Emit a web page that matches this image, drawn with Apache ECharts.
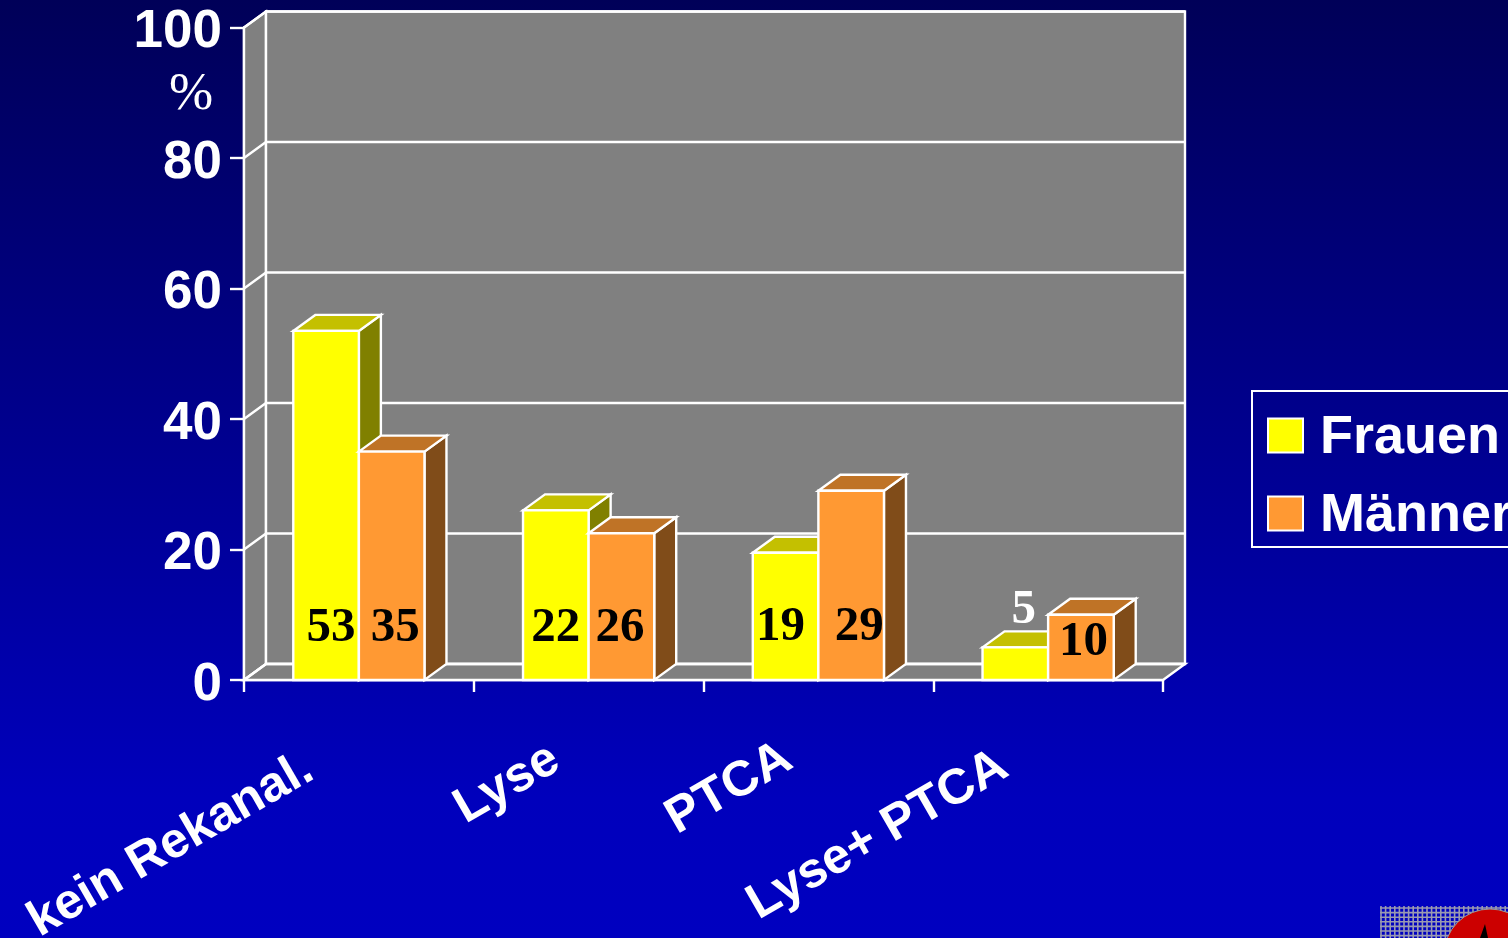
<!DOCTYPE html>
<html><head><meta charset="utf-8">
<style>html,body{margin:0;padding:0;background:#0000c0;overflow:hidden}#c{width:1508px;height:938px}</style>
<script src="https://cdn.jsdelivr.net/npm/echarts@6/dist/echarts.min.js"></script>
</head><body><div id="c"></div>
<script>
const categories = ['kein Rekanal.', 'Lyse', 'PTCA', 'Lyse+ PTCA'];
const frauenValues = [53.5, 26, 19.5, 5];
const maennerValues = [35, 22.5, 29, 10];
const frauenLabels = ['53', '22', '19', '5'];
const maennerLabels = ['35', '26', '29', '10'];
const yTicks = [0, 20, 40, 60, 80, 100];

const DX = 22, DY = -16;
const WHITE = '#ffffff', GRAY = '#808080';
const sans = '"Liberation Sans", Arial, sans-serif';
const serif = '"Liberation Serif", "Times New Roman", serif';
const LW = 2.4;
const line = {stroke: WHITE, lineWidth: LW, lineJoin: 'miter'};

function wallItem(params) {
  const c = params.coordSys, l = c.x, r = c.x + c.width, t = c.y, b = c.y + c.height;
  const poly = (pts) => ({type: 'polygon', shape: {points: pts}, style: Object.assign({fill: GRAY}, line)});
  return {type: 'group', children: [
    poly([[l, b], [l + DX, b + DY], [l + DX, t + DY], [l, t]]),
    poly([[l + DX, b + DY], [r + DX, b + DY], [r + DX, t + DY], [l + DX, t + DY]]),
    poly([[l, b], [r, b], [r + DX, b + DY], [l + DX, b + DY]])
  ]};
}
function gridItem(params, api) {
  const c = params.coordSys, y = api.coord([0, api.value(0)])[1];
  const pts = [[c.x, y], [c.x + DX, y + DY], [c.x + c.width + DX, y + DY]];
  return {type: 'polyline', shape: {points: pts}, style: {fill: 'none', stroke: WHITE, lineWidth: LW}};
}
function barRenderer(colors, side, labels, offsets) {
  return function (params, api) {
    const i = params.dataIndex;
    const base = api.coord([i, 0]), top = api.coord([i, api.value(1)]);
    const w = api.size([1, 0])[0] * 0.2855;
    const x0 = side < 0 ? base[0] - w : base[0], x1 = x0 + w;
    const yT = top[1], yB = base[1];
    const poly = (pts, fill) => ({type: 'polygon', shape: {points: pts}, style: Object.assign({fill}, line)});
    const o = offsets[i];
    return {type: 'group', children: [
      poly([[x1, yT], [x1 + DX, yT + DY], [x1 + DX, yB + DY], [x1, yB]], colors.side),
      poly([[x0, yT], [x0 + DX, yT + DY], [x1 + DX, yT + DY], [x1, yT]], colors.top),
      poly([[x0, yT], [x1, yT], [x1, yB], [x0, yB]], colors.front),
      {type: 'text', style: {
        text: labels[i], x: (x0 + x1) / 2 + o[0], y: yB + o[1],
        fill: o[2] || '#000000', font: 'bold 49px ' + serif, align: 'center', verticalAlign: 'middle'
      }, z2: 10}
    ]};
  };
}
const frauenOffsets = [[5, -52], [0, -52], [-5, -53], [8.5, -70, WHITE]];
const maennerOffsets = [[3.5, -52], [-1.5, -52], [8, -53], [2.5, -38]];

const hatch = [];
for (let x = 1381; x < 1508; x += 4.6) hatch.push({type: 'line', shape: {x1: x, y1: 906, x2: x, y2: 938}, style: {stroke: '#9a9ab0', lineWidth: 1.6}});
for (let y = 908; y < 938; y += 4.6) hatch.push({type: 'line', shape: {x1: 1380, y1: y, x2: 1508, y2: y}, style: {stroke: '#9a9ab0', lineWidth: 1.6}});

const labelPad = [57, 38, 35, 51];
const rich = {};
labelPad.forEach((p, i) => { rich['a' + i] = {color: WHITE, fontFamily: sans, fontWeight: 'bold', fontSize: 50, padding: [0, p, 0, 0]}; });

const chart = echarts.init(document.getElementById('c'), null, {renderer: 'canvas'});
chart.setOption({
  animation: false,
  backgroundColor: {type: 'linear', x: 0, y: 0, x2: 0, y2: 1, colorStops: [{offset: 0, color: '#000058'}, {offset: 0.85, color: '#0000bc'}, {offset: 1, color: '#0000c0'}]},
  grid: {left: 244, right: 345, top: 27.5, bottom: 258, containLabel: false, outerBoundsMode: 'none'},
  xAxis: {
    type: 'category', data: categories,
    axisLine: {lineStyle: {color: WHITE, width: LW}},
    axisTick: {show: true, length: 12, lineStyle: {color: WHITE, width: LW}},
    axisLabel: {interval: 0, rotate: 30, margin: 57, formatter: (v, i) => '{a' + i + '|' + v + '}', rich}
  },
  yAxis: {
    type: 'value', min: 0, max: 100, interval: 20,
    axisLine: {show: true, lineStyle: {color: WHITE, width: LW}},
    axisTick: {show: true, length: 14, lineStyle: {color: WHITE, width: LW}},
    splitLine: {show: false},
    axisLabel: {margin: 22, showMinLabel: true, showMaxLabel: true, formatter: (v) => '{v|' + v + '}',
      rich: {v: {color: WHITE, fontFamily: sans, fontWeight: 'bold', fontSize: 53, padding: [10, 0, 0, 0]}}}
  },
  legend: {
    left: 1252, top: 391, orient: 'vertical', data: [{name: 'Frauen', icon: 'rect'}, {name: 'Männer', icon: 'rect'}],
    itemWidth: 35, itemHeight: 34, itemGap: 24, padding: [20, 12, 4, 15],
    borderColor: WHITE, borderWidth: 2, itemStyle: {borderColor: WHITE, borderWidth: 2},
    formatter: (n) => '{t|' + n + '}',
    textStyle: {color: WHITE, rich: {t: {color: WHITE, fontFamily: sans, fontWeight: 'bold', fontSize: 54, padding: [5, 0, 0, 12]}}}, selectedMode: false
  },
  graphic: [
    {type: 'text', left: 169, top: 69, style: {text: '%', fill: WHITE, font: '53px ' + serif}},
    {type: 'group', children: hatch.concat([
      {type: 'circle', shape: {cx: 1490, cy: 955, r: 46}, style: {fill: '#cc0000', stroke: '#9a9a9a', lineWidth: 1}},
      {type: 'polygon', shape: {points: [[1485, 924], [1488, 938], [1480, 938]]}, style: {fill: '#000000'}}
    ])}
  ],
  series: [
    {type: 'custom', name: 'walls', coordinateSystem: 'cartesian2d', data: [[0]], encode: {y: 0}, renderItem: wallItem, clip: false, z: 1, silent: true},
    {type: 'custom', name: 'grid', coordinateSystem: 'cartesian2d', data: yTicks.map(v => [v]), encode: {y: 0}, renderItem: gridItem, clip: false, z: 1.5, silent: true},
    {type: 'custom', name: 'Frauen', coordinateSystem: 'cartesian2d', data: frauenValues.map((v, i) => [i, v]), encode: {x: 0, y: 1},
      itemStyle: {color: '#ffff00'}, clip: false, z: 3,
      renderItem: barRenderer({front: '#ffff00', top: '#c4c000', side: '#808000'}, -1, frauenLabels, frauenOffsets)},
    {type: 'custom', name: 'Männer', coordinateSystem: 'cartesian2d', data: maennerValues.map((v, i) => [i, v]), encode: {x: 0, y: 1},
      itemStyle: {color: '#ff9933'}, clip: false, z: 4,
      renderItem: barRenderer({front: '#ff9933', top: '#bf7326', side: '#804c19'}, 1, maennerLabels, maennerOffsets)}
  ]
});
</script></body></html>
